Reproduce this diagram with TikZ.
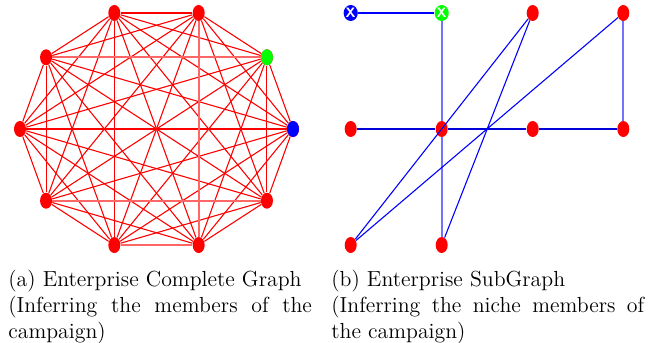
\documentclass[tikz,border=0pt]{standalone}
\usetikzlibrary{shapes.geometric,positioning}
\hyphenpenalty=10000

\begin{document}
\begin{tikzpicture}[
    x=0.55pt, y=-0.55pt,
    vertex/.style={ellipse, fill=red, minimum width=6.6pt, minimum height=8.8pt, inner sep=0pt},
    seed/.style={vertex, fill=blue, text=white, font=\fontsize{7.5}{7.5}\selectfont\sffamily\bfseries},
    probe/.style={vertex, fill=green, text=white, font=\fontsize{7.5}{7.5}\selectfont\sffamily\bfseries},
    link/.style={red, line width=0.6pt},
    heavylink/.style={red!60, line width=1pt},
    sublink/.style={blue, line width=0.6pt},
    rowlink/.style={blue!85!black, line width=0.8pt},
    trunk/.style={blue!55, line width=1.2pt},
    caption/.style={align=justify, inner sep=0pt, anchor=north west,
        font=\fontsize{12}{14.2}\selectfont}
]
    \useasboundingbox (0,0) rectangle (657,342);

    % complete graph on ten vertices
    \foreach \i in {0,...,9}
        \node[vertex] (c\i) at ({156.5+136.5*cos(36*\i)}, {129-122*sin(36*\i)}) {};
    \node[vertex, fill=blue] at (c0) {};
    \node[vertex, fill=green] at (c1) {};
    \foreach \i in {0,...,8} {
        \pgfmathtruncatemacro\nxt{\i+1}
        \foreach \j in {\nxt,...,9}
            \draw[link] (c\i) -- (c\j);
    }
    \draw[heavylink] (c4) -- (c1);
    \draw[heavylink] (c2) -- (c8);
    \draw[heavylink] (c6) -- (c9);
    \draw[heavylink] (c7) -- (c8);

    % subgraph
    \node[seed] (r11) at (350.7,13) {X};
    \node[probe] (r12) at (441.7,13) {X};
    \node[vertex] (r13) at (532.7,13) {};
    \node[vertex] (r14) at (623.3,13) {};
    \node[vertex] (r21) at (350.7,129) {};
    \node[vertex] (r22) at (441.7,129) {};
    \node[vertex] (r23) at (532.7,129) {};
    \node[vertex] (r24) at (623.3,129) {};
    \node[vertex] (r31) at (350.7,245) {};
    \node[vertex] (r32) at (441.7,245) {};

    \draw[sublink] (r11) -- (r12);
    \draw[trunk] (r12) -- (r22);
    \draw[trunk] (r22) -- (r32);
    \draw[trunk] (r14) -- (r24);
    \draw[rowlink] (r21) -- (r22) -- (r23) -- (r24);
    \draw[sublink] (r13) -- (r31);
    \draw[sublink] (r13) -- (r32);
    \draw[sublink] (r14) -- (r31);

    % captions
    \node[caption, text width=167pt] (capa) at (8,270) {(a) Enterprise Complete Graph\\(Inferring the members of the campaign)};
    \node[caption, text width=172pt] (capb) at (331,270) {(b) Enterprise SubGraph\\(Inferring the niche members of the campaign)};
\end{tikzpicture}
\end{document}
